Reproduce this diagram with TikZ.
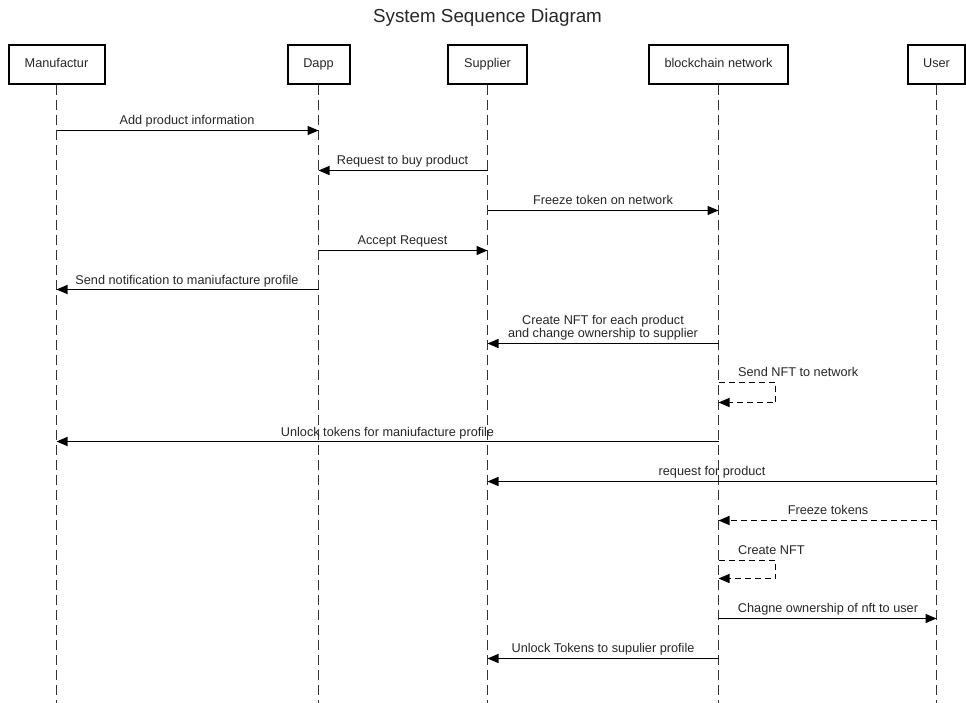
\documentclass[tikz,border=0pt]{standalone}
\usepackage{fontspec}
\setmainfont{Liberation Sans}
\usetikzlibrary{arrows.meta}
\begin{document}
\begin{tikzpicture}[x=1pt,y=-1pt,
  lbl/.style={font=\fontsize{12.7}{13}\selectfont, text=black!85, inner sep=0pt, anchor=base},
  actor/.style={draw=black, line width=2pt, minimum height=39pt, inner sep=0pt,
     text height=9.2pt, text depth=2.6pt,
     font=\fontsize{12.7}{15}\selectfont, text=black!85},
  life/.style={draw=black!80, line width=1.4pt, dash pattern=on 10pt off 5pt},
  msg/.style={draw=black, line width=1.5pt, -{Triangle[length=11pt,width=9pt]}},
  rmsg/.style={draw=black, line width=1.5pt, dash pattern=on 6pt off 4pt, -{Triangle[length=11pt,width=9pt]}},
]
\useasboundingbox (0,0) rectangle (966,703);
\node[font=\fontsize{18.8}{20}\selectfont, text=black!85, inner sep=0pt, anchor=base] (title) at (487.5,23) {System Sequence Diagram};

\node[actor, minimum width=96pt] (man) at (56.5,64.5) {Manufactur};
\node[actor, minimum width=62pt] (dapp) at (318.5,64.5) {Dapp};
\node[actor, minimum width=79pt] (sup) at (487.5,64.5) {Supplier};
\node[actor, minimum width=139pt] (bc) at (718.5,64.5) {blockchain network};
\node[actor, minimum width=57pt] (usr) at (936.5,64.5) {User};

\foreach \n in {man,dapp,sup,bc,usr}{
  \coordinate (\n-end) at (\n.south |- 0,703);
  \draw[life] (\n.south) -- (\n-end);
}

% 1
\draw[msg] (man |- 0,130.5) -- (dapp |- 0,130.5);
\node[lbl] (l1) at (187,124.5) {Add product information};
% 2
\draw[msg] (sup |- 0,170.5) -- (dapp |- 0,170.5);
\node[lbl] (l2) at (402.5,165) {Request to buy product};
% 3
\draw[msg] (sup |- 0,210.5) -- (bc |- 0,210.5);
\node[lbl] (l3) at (603,204.5) {Freeze token on network};
% 4
\draw[msg] (dapp |- 0,250.5) -- (sup |- 0,250.5);
\node[lbl] (l4) at (402.5,244.5) {Accept Request};
% 5
\draw[msg] (dapp |- 0,289.5) -- (man |- 0,289.5);
\node[lbl] (l5) at (187,284) {Send notification to maniufacture profile};
% 6
\draw[msg] (bc |- 0,343.5) -- (sup |- 0,343.5);
\node[lbl] (l6a) at (603,324) {Create NFT for each product};
\node[lbl] (l6b) at (603,337.5) {and change ownership to supplier};
% 7 self loop
\draw[rmsg] (bc |- 0,382.5) -- ++(57,0) -- ++(0,20) -- (bc |- 0,402.5);
\node[lbl, anchor=base west] (l7) at (738,376.5) {Send NFT to network};
% 8
\draw[msg] (bc |- 0,441.5) -- (man |- 0,441.5);
\node[lbl] (l8) at (387.5,436) {Unlock tokens for maniufacture profile};
% 9
\draw[msg] (usr |- 0,481.5) -- (sup |- 0,481.5);
\node[lbl] (l9) at (712,475.5) {request for product};
% 10
\draw[rmsg] (usr |- 0,520.5) -- (bc |- 0,520.5);
\node[lbl] (l10) at (828,514.5) {Freeze tokens};
% 11 self loop
\draw[rmsg] (bc |- 0,560.5) -- ++(57,0) -- ++(0,18) -- (bc |- 0,578.5);
\node[lbl, anchor=base west] (l11) at (738,554.5) {Create NFT};
% 12
\draw[msg] (bc |- 0,618.5) -- (usr |- 0,618.5);
\node[lbl] (l12) at (828,612.5) {Chagne ownership of nft to user};
% 13
\draw[msg] (bc |- 0,658.5) -- (sup |- 0,658.5);
\node[lbl] (l13) at (603,652.5) {Unlock Tokens to supulier profile};
\end{tikzpicture}
\end{document}
